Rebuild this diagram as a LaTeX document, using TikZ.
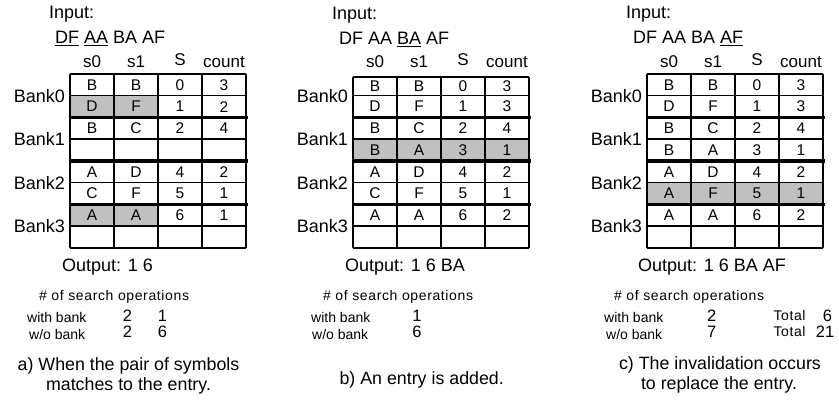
\documentclass[tikz,border=0pt]{standalone}
\usepackage{fontspec}
\setmainfont{Liberation Sans}
\newfontfamily\spacedfont[LetterSpace=4.5]{Liberation Sans}
\definecolor{cellgray}{RGB}{192,192,192}
\newcommand\myul[1]{\setbox0\hbox{#1}\rlap{\rule[-3.1pt]{\wd0}{1.4pt}}#1}
\newcommand\banktable[3]{%
  \foreach \k in {1,3,5,7} \draw[gridline] (0,{74+21.75*\k}) -- (176,{74+21.75*\k});
  \draw[gridline] (0,#2) -- (176,#2);
  \draw[gridline] (0,248) -- (176,248);
  \foreach \k in {2,4,6} \draw[bankline] (-1.5,{74+21.75*\k}) -- (177.5,{74+21.75*\k});
  \foreach \i in {0,...,4} \draw[gridline] ({44*\i},#2) -- ({44*\i},248);
  \foreach \r/\a/\b/\c/\d in {#3} {
    \pgfmathsetmacro\yc{\r==1 ? (#2+95.75)/2 : 74+21.75*(\r-0.5)}
    \node[cellt] (#1-\r-1) at (22,\yc) {\a};
    \node[cellt] (#1-\r-2) at (66,\yc) {\b};
    \node[cellt] (#1-\r-3) at (110,\yc) {\c};
    \node[cellt] (#1-\r-4) at (154,\yc) {\d};
  }
  \node[hdr] (#1-h1) at (22,67.8) {s0};
  \node[hdr] (#1-h2) at (66,67.8) {s1};
  \node[hdr] (#1-h3) at (110,65.3) {S};
  \node[hdr] (#1-h4) at (154,67.8) {count};
  \node[bank] (#1-bank0) at (-5,95.75) {Bank0};
  \node[bank] (#1-bank1) at (-5,139.25) {Bank1};
  \node[bank] (#1-bank2) at (-5,182.75) {Bank2};
  \node[bank] (#1-bank3) at (-5,226.25) {Bank3};
}
\begin{document}
\begin{tikzpicture}[x=1pt,y=-1pt,
  lab/.style={inner sep=0pt, anchor=base west, font=\fontsize{18}{21}\selectfont},
  cellt/.style={inner sep=0pt, font=\fontsize{15.5}{18}\selectfont},
  hdr/.style={inner sep=0pt, anchor=base, font=\fontsize{17}{19}\selectfont},
  bank/.style={inner sep=0pt, anchor=east, font=\fontsize{18}{21}\selectfont},
  ops/.style={inner sep=0pt, anchor=base west, font=\spacedfont\fontsize{14}{16}\selectfont},
  small/.style={inner sep=0pt, anchor=base west, font=\fontsize{14}{16}\selectfont},
  num/.style={inner sep=0pt, anchor=base, font=\fontsize{16.5}{19}\selectfont},
  captxt/.style={inner sep=0pt, anchor=base, font=\fontsize{17.8}{21}\selectfont},
  gridline/.style={line width=1.5pt},
  bankline/.style={line width=3.2pt},
]
\useasboundingbox (0,0) rectangle (839,401);
% ---------- panel a ----------
\begin{scope}[shift={(70,0)}]
  \fill[cellgray] (0,95.75) rectangle (88,117.5);
  \fill[cellgray] (0,204.5) rectangle (88,226.25);
  \banktable{a}{74}{1/B/B/0/3, 2/D/F/1/2, 3/B/C/2/4, 5/A/D/4/2, 6/C/F/5/1, 7/A/A/6/1}
  \node[lab] (a-in) at (-21,18.3) {Input:};
  \node[lab] (a-seq) at (-15,43.3) {\myul{DF} \myul{AA} BA AF};
  \node[lab] (a-out) at (-8,271.5) {Output: 1 6};
  \node[ops] (a-ops) at (-31,301) {\# of search operations};
  \node[small] (a-wb) at (-43,323) {with bank};
  \node[small] (a-wo) at (-41,339.5) {w/o bank};
  \node[num] (a-n11) at (57.5,321.7) {2};
  \node[num] (a-n12) at (92.5,321.7) {1};
  \node[num] (a-n21) at (57.5,337.3) {2};
  \node[num] (a-n22) at (92.5,337.3) {6};
  \node[captxt] (a-cap1) at (58.5,370.3) {a) When the pair of symbols};
  \node[captxt] (a-cap2) at (58.5,390.7) {matches to the entry.};
\end{scope}
% ---------- panel b ----------
\begin{scope}[shift={(353,0)}]
  \fill[cellgray] (0,139.25) rectangle (176,161);
  \banktable{b}{77}{1/B/B/0/3, 2/D/F/1/3, 3/B/C/2/4, 4/B/A/3/1, 5/A/D/4/2, 6/C/F/5/1, 7/A/A/6/2}
  \node[lab] (b-in) at (-21,19.3) {Input:};
  \node[lab] (b-seq) at (-14,44.3) {DF AA \myul{BA} AF};
  \node[lab] (b-out) at (-8,271.5) {Output: 1 6 BA};
  \node[ops] (b-ops) at (-30,301) {\# of search operations};
  \node[small] (b-wb) at (-42,323) {with bank};
  \node[small] (b-wo) at (-41,339.5) {w/o bank};
  \node[num] (b-n1) at (64,321.7) {1};
  \node[num] (b-n2) at (64,337.3) {6};
  \node[captxt] (b-cap) at (68.7,384) {b) An entry is added.};
\end{scope}
% ---------- panel c ----------
\begin{scope}[shift={(647,0)}]
  \fill[cellgray] (0,182.75) rectangle (176,204.5);
  \banktable{c}{74}{1/B/B/0/3, 2/D/F/1/3, 3/B/C/2/4, 4/B/A/3/1, 5/A/D/4/2, 6/A/F/5/1, 7/A/A/6/2}
  \node[lab] (c-in) at (-21,18.3) {Input:};
  \node[lab] (c-seq) at (-14,43.3) {DF AA BA \myul{AF}};
  \node[lab] (c-out) at (-9,271.5) {Output: 1 6 BA AF};
  \node[ops] (c-ops) at (-33,301) {\# of search operations};
  \node[small] (c-wb) at (-43,323) {with bank};
  \node[small] (c-wo) at (-41,339.5) {w/o bank};
  \node[num] (c-n1) at (64.7,321.7) {2};
  \node[num] (c-n2) at (64.7,337.3) {7};
  \node[ops] (c-t1) at (126.3,320) {Total};
  \node[ops] (c-t2) at (126.3,336.7) {Total};
  \node[num] (c-tn1) at (180.5,321.7) {6};
  \node[num] (c-tn2) at (178,337.3) {21};
  \node[captxt] (c-cap1) at (73,369) {c) The invalidation occurs};
  \node[captxt] (c-cap2) at (72,389) {to replace the entry.};
\end{scope}
\end{tikzpicture}
\end{document}
